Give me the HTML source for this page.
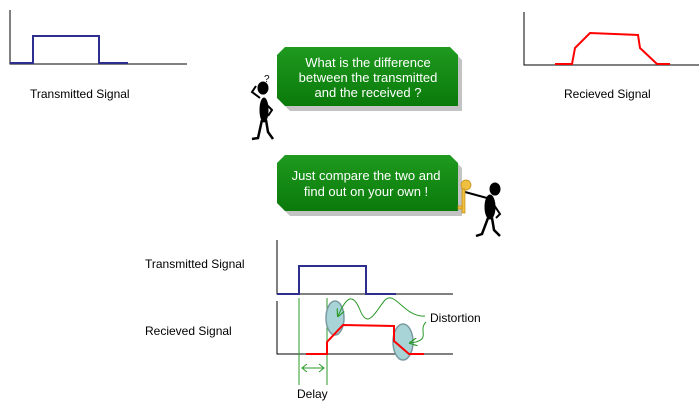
<!DOCTYPE html>
<html><head><style>
body{margin:0;background:#fff;width:699px;height:405px;overflow:hidden;font-family:"Liberation Sans",sans-serif;}
svg{position:absolute;left:0;top:0}
</style></head><body>
<svg width="699" height="405" viewBox="0 0 699 405" font-family="Liberation Sans, sans-serif">
<defs>
<linearGradient id="g" x1="0" y1="0" x2="0" y2="1"><stop offset="0" stop-color="#1f9a1f"/><stop offset="1" stop-color="#0a7a0a"/></linearGradient>
<marker id="ah" markerWidth="8" markerHeight="8" refX="7" refY="4" orient="auto"><path d="M0,0 L8,4 L0,8" fill="none" stroke="#2a9a2a" stroke-width="1.2"/></marker>
</defs>
<path d="M10,10 V64 H187" stroke="#000" fill="none"/>
<path d="M10,63 H33 V36 H99 V63 H128" stroke="#2e2e8e" stroke-width="2" fill="none"/>
<text x="30" y="98" font-size="12">Transmitted Signal</text>
<path d="M524,12 V65 H699" stroke="#000" fill="none"/>
<path d="M555,64 H572 L575,48 L590,33 L638,35 L640,48 L657,64 H670" stroke="#f00" stroke-width="2" fill="none"/>
<text x="564" y="98" font-size="12">Recieved Signal</text>
<path d="M282,52 H454 L462,60 V111 H290 L282,103 Z" fill="#888" opacity="0.5"/>
<path d="M285,47 H450 L458,55 V106 H285 L277,98 V55 Z" fill="url(#g)"/>
<path d="M282,160 H454 L462,168 V216 H290 L282,208 Z" fill="#888" opacity="0.5"/>
<path d="M285,155 H450 L458,163 V211 H285 L277,203 V163 Z" fill="url(#g)"/>
<g fill="#fff" font-size="13" text-anchor="middle">
<text x="368" y="67">What is the difference</text>
<text x="368" y="82">between the transmitted</text>
<text x="368" y="97">and the received ?</text>
<text x="366" y="180">Just compare the two and</text>
<text x="366" y="196">find out on your own !</text>
</g>
<g fill="#000" stroke="#000">
<text x="264" y="82" font-size="10" stroke="none">?</text>
<ellipse cx="263" cy="88" rx="5" ry="6"/>
<ellipse cx="264" cy="110" rx="4" ry="12"/>
<path d="M260,98 L252,92 L256,86" fill="none" stroke-width="2"/>
<path d="M266,104 L272,110 L268,116" fill="none" stroke-width="2"/>
<path d="M262,120 L258,138 L252,139 M266,120 L268,132 L273,139" fill="none" stroke-width="2.5"/>
</g>
<g fill="#000" stroke="#000">
<ellipse cx="495" cy="189" rx="5" ry="6"/>
<ellipse cx="490" cy="207" rx="5" ry="12"/>
<path d="M487,198 L465,192" fill="none" stroke-width="2"/>
<path d="M494,205 L500,214 L496,218" fill="none" stroke-width="2"/>
<path d="M488,218 L482,234 L476,236 M492,218 L494,230 L500,236" fill="none" stroke-width="2.5"/>
</g>
<g fill="#f0c040" stroke="#c08a10" stroke-width="0.7">
<circle cx="466" cy="185" r="5"/>
<rect x="462" y="189" width="3" height="24"/>
<rect x="458" y="206" width="4" height="3"/>
</g>
<text x="145" y="268" font-size="12">Transmitted Signal</text>
<text x="145" y="335" font-size="12">Recieved Signal</text>
<path d="M277,240 V294 H453" stroke="#000" fill="none"/>
<path d="M277,294 H299 V266 H366 V294 H396" stroke="#2e2e8e" stroke-width="2" fill="none"/>
<path d="M277,301 V354 H453" stroke="#000" fill="none"/>
<line x1="299" y1="298" x2="299" y2="385" stroke="#2a9a2a"/>
<line x1="327" y1="298" x2="327" y2="385" stroke="#2a9a2a"/>
<path d="M303,368 H323 M307,364 L302,368 L307,372 M319,364 L324,368 L319,372" stroke="#2a9a2a" fill="none"/>
<ellipse cx="335" cy="318" rx="9" ry="17" fill="#a8d4d8" stroke="#7a9aa0" stroke-width="1.5"/>
<ellipse cx="403" cy="342" rx="10" ry="18" fill="#a8d4d8" stroke="#7a9aa0" stroke-width="1.5"/>
<path d="M306,354 H327 V342 L343,325 L394,326 V341 L409,354 H424" stroke="#f00" stroke-width="2" fill="none"/>
<path d="M425,316 C405,318 395,290 385,300 C375,312 368,330 360,310 C352,290 345,300 338,316" stroke="#2a9a2a" fill="none" marker-end="url(#ah)"/>
<path d="M426,322 C418,330 430,338 416,342 L410,343" stroke="#2a9a2a" fill="none" marker-end="url(#ah)"/>
<text x="430" y="322" font-size="12">Distortion</text>
<text x="297" y="398" font-size="12">Delay</text>
</svg>
</body></html>
